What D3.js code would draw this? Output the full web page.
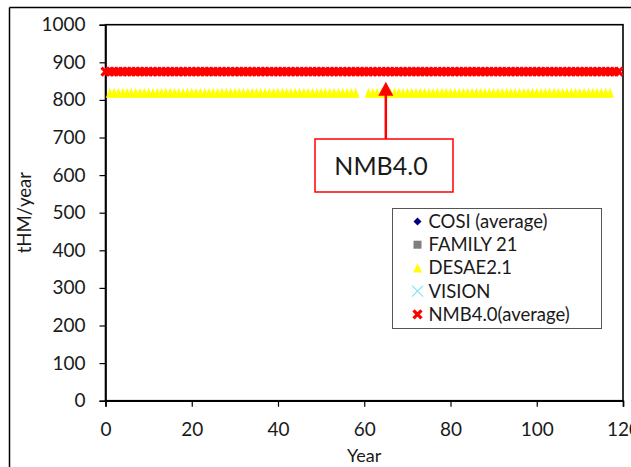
<!DOCTYPE html>
<html>
<head>
<meta charset="utf-8">
<script src="https://cdn.jsdelivr.net/npm/d3@7"></script>
<style>
  html, body { margin: 0; padding: 0; background: #fff; }
  svg { display: block; font-family: Lato, "Open Sans", sans-serif; }
</style>
</head>
<body>
<svg id="chart" width="631" height="467"></svg>
<script>
// Annual throughput (tHM/year) reported by each scenario code
const xTicks = [0, 20, 40, 60, 80, 100, 120];
const yTicks = [0, 100, 200, 300, 400, 500, 600, 700, 800, 900, 1000];

const cosiYears = [];
const cosiValues = [];
const family21Years = [];
const family21Values = [];
const visionYears = [];
const visionValues = [];

const desaeYears = [
  1,2,3,4,5,6,7,8,9,10,11,12,13,14,15,16,17,18,19,20,
  21,22,23,24,25,26,27,28,29,30,31,32,33,34,35,36,37,38,39,40,
  41,42,43,44,45,46,47,48,49,50,51,52,53,54,55,56,57,58,
  61,62,63,64,65,66,67,68,69,70,71,72,73,74,75,76,77,78,79,80,
  81,82,83,84,85,86,87,88,89,90,91,92,93,94,95,96,97,98,99,100,
  101,102,103,104,105,106,107,108,109,110,111,112,113,114,115,116,117
];
const desaeValues = [
  819,819,819,819,819,819,819,819,819,819,819,819,819,819,819,819,819,819,819,819,
  819,819,819,819,819,819,819,819,819,819,819,819,819,819,819,819,819,819,819,819,
  819,819,819,819,819,819,819,819,819,819,819,819,819,819,819,819,819,819,
  819,819,819,819,819,819,819,819,819,819,819,819,819,819,819,819,819,819,819,819,
  819,819,819,819,819,819,819,819,819,819,819,819,819,819,819,819,819,819,819,819,
  819,819,819,819,819,819,819,819,819,819,819,819,819,819,819,819,819
];

const nmbYears = [
  0,1,2,3,4,5,6,7,8,9,10,11,12,13,14,15,16,17,18,19,
  20,21,22,23,24,25,26,27,28,29,30,31,32,33,34,35,36,37,38,39,
  40,41,42,43,44,45,46,47,48,49,50,51,52,53,54,55,56,57,58,59,
  60,61,62,63,64,65,66,67,68,69,70,71,72,73,74,75,76,77,78,79,
  80,81,82,83,84,85,86,87,88,89,90,91,92,93,94,95,96,97,98,99,
  100,101,102,103,104,105,106,107,108,109,110,111,112,113,114,115,116,117,118,119
];
const nmbValues = [
  875,875,875,875,875,875,875,875,875,875,875,875,875,875,875,875,875,875,875,875,
  875,875,875,875,875,875,875,875,875,875,875,875,875,875,875,875,875,875,875,875,
  875,875,875,875,875,875,875,875,875,875,875,875,875,875,875,875,875,875,875,875,
  875,875,875,875,875,875,875,875,875,875,875,875,875,875,875,875,875,875,875,875,
  875,875,875,875,875,875,875,875,875,875,875,875,875,875,875,875,875,875,875,875,
  875,875,875,875,875,875,875,875,875,875,875,875,875,875,875,875,875,875,875,875
];

const legendLabels = ["COSI (average)", "FAMILY 21", "DESAE2.1", "VISION", "NMB4.0(average)"];
const calloutText = "NMB4.0";
const calloutYear = 65;
const calloutValue = 848;

const svg = d3.select("#chart");
const plot = { left: 105.5, right: 623, top: 24.7, bottom: 400.7 };

const x = d3.scaleLinear().domain([0, 120]).range([plot.left, plot.right]);
const y = d3.scaleLinear().domain([0, 1000]).range([plot.bottom, plot.top]);

// outer frame (top and left edges)
svg.append("line").attr("x1", 9.5).attr("x2", 631).attr("y1", 7.5).attr("y2", 7.5)
  .attr("stroke", "#000").attr("stroke-width", 1.5);
svg.append("line").attr("x1", 9.5).attr("x2", 9.5).attr("y1", 7.5).attr("y2", 467)
  .attr("stroke", "#000").attr("stroke-width", 1.5);

// plot area border
svg.append("rect")
  .attr("x", plot.left).attr("y", plot.top)
  .attr("width", plot.right - plot.left).attr("height", plot.bottom - plot.top)
  .attr("fill", "none").attr("stroke", "#000").attr("stroke-width", 1.6);

// axes
const yAxis = svg.append("g").attr("transform", `translate(${plot.left},0)`)
  .call(d3.axisLeft(y).tickValues(yTicks).tickFormat(d3.format("d")).tickSize(6).tickPadding(14));
const xAxis = svg.append("g").attr("transform", `translate(0,${plot.bottom})`)
  .call(d3.axisBottom(x).tickValues(xTicks).tickFormat(d3.format("d")).tickSize(6).tickPadding(16));
[xAxis, yAxis].forEach(g => {
  g.select(".domain").attr("stroke", "#000").attr("stroke-width", 1.6);
  g.selectAll(".tick line").attr("stroke", "#000").attr("stroke-width", 1.2);
  g.selectAll(".tick text").attr("fill", "#1a1a1a").style("font-size", "19px")
    .style("font-family", "Lato, 'Open Sans', sans-serif");
});

// axis titles
svg.append("text").attr("x", x(60)).attr("y", 462).attr("text-anchor", "middle")
  .attr("fill", "#1a1a1a").style("font-size", "18px").text("Year");
svg.append("text").attr("transform", `translate(31,${(plot.top + plot.bottom) / 2}) rotate(-90)`)
  .attr("text-anchor", "middle").attr("fill", "#1a1a1a").style("font-size", "18.5px").text("tHM/year");

// marker shapes
const diamond = s => `M0,${-s}L${s},0L0,${s}L${-s},0Z`;
const square = s => `M${-s},${-s}H${s}V${s}H${-s}Z`;
const triangle = (w, h) => `M0,${-h / 2}L${w / 2},${h / 2}L${-w / 2},${h / 2}Z`;
const cross = s => `M${-s},${-s}L${s},${s}M${-s},${s}L${s},${-s}`;

const styles = [
  { d: diamond(4), fill: "#000080", stroke: "none", sw: 0 },
  { d: square(3.5), fill: "#7f7f7f", stroke: "none", sw: 0 },
  { d: triangle(8, 10), fill: "#ffff00", stroke: "none", sw: 0 },
  { d: cross(4), fill: "none", stroke: "#7fe8f0", sw: 1.2 },
  { d: cross(4), fill: "none", stroke: "#ff0000", sw: 3.2 }
];

const seriesData = [
  [cosiYears, cosiValues],
  [family21Years, family21Values],
  [desaeYears, desaeValues],
  [visionYears, visionValues],
  [nmbYears, nmbValues]
];

seriesData.forEach(([yrs, vals], i) => {
  const st = styles[i];
  svg.append("g").selectAll("path")
    .data(yrs.map((yr, k) => ({ yr, v: vals[k] })))
    .join("path")
    .attr("transform", d => `translate(${x(d.yr)},${y(d.v)})`)
    .attr("d", st.d)
    .attr("fill", st.fill)
    .attr("stroke", st.stroke)
    .attr("stroke-width", st.sw);
});

// callout box with arrow
const ax = x(calloutYear);
const tipY = y(calloutValue);
const box = { x: 315, y: 139, w: 138, h: 53 };
svg.append("line").attr("x1", ax).attr("x2", ax).attr("y1", box.y).attr("y2", tipY + 12)
  .attr("stroke", "#ff0000").attr("stroke-width", 2.5);
svg.append("path")
  .attr("d", `M${ax},${tipY}L${ax + 7.5},${tipY + 14}L${ax - 7.5},${tipY + 14}Z`)
  .attr("fill", "#ff0000");
svg.append("rect").attr("x", box.x).attr("y", box.y).attr("width", box.w).attr("height", box.h)
  .attr("fill", "#fff").attr("stroke", "#ff0000").attr("stroke-width", 1.5);
svg.append("text").attr("x", box.x + box.w / 2 - 3).attr("y", box.y + box.h / 2 + 9)
  .attr("text-anchor", "middle").attr("fill", "#1a1a1a").style("font-size", "25px").text(calloutText);

// legend
const lg = { x: 392.5, y: 208.5, w: 209, h: 120 };
svg.append("rect").attr("x", lg.x).attr("y", lg.y).attr("width", lg.w).attr("height", lg.h)
  .attr("fill", "#fff").attr("stroke", "#555").attr("stroke-width", 1);
const legendSize = [
  diamond(4), square(4), triangle(9, 9), cross(5.5), cross(4)
];
legendLabels.forEach((label, i) => {
  const cy = lg.y + 13 + i * 23.2;
  const st = styles[i];
  svg.append("path").attr("transform", `translate(${lg.x + 25},${cy})`)
    .attr("d", legendSize[i]).attr("fill", st.fill).attr("stroke", st.stroke)
    .attr("stroke-width", st.sw);
  svg.append("text").attr("x", lg.x + 36).attr("y", cy + 6.5)
    .attr("fill", "#1a1a1a").style("font-size", "18.5px").text(label);
});
</script>
</body>
</html>
